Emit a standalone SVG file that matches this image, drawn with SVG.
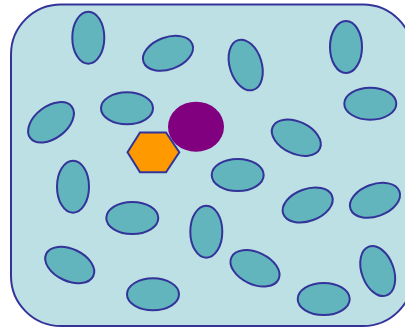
<svg xmlns="http://www.w3.org/2000/svg" width="405" height="327" viewBox="0 0 405 327">
<style>
.cell{fill:#bce0e4;stroke:#333399;stroke-width:2}
.o{fill:#62b5bd;stroke:#333399;stroke-width:2}
</style>
<defs>
<ellipse id="h" cx="0" cy="0" rx="26" ry="16"/>
</defs>
<g id="cell"><rect class="cell" x="11" y="4.5" width="402" height="321.5" rx="50" ry="50"/></g>
<g id="organelles">
<ellipse class="o" cx="88.3" cy="37.7" rx="16" ry="26"/>
<ellipse class="o" cx="0" cy="0" rx="26" ry="16" transform="translate(168,53.3) rotate(-20)"/>
<ellipse class="o" cx="0" cy="0" rx="16" ry="26" transform="translate(245.7,65) rotate(-17)"/>
<ellipse class="o" cx="346" cy="47" rx="16" ry="26"/>
<ellipse class="o" cx="370.3" cy="103.7" rx="26" ry="16"/>
<ellipse class="o" cx="0" cy="0" rx="26" ry="16" transform="translate(51,122.3) rotate(-37)"/>
<ellipse class="o" cx="127" cy="108.3" rx="26" ry="16"/>
<ellipse class="o" cx="0" cy="0" rx="26" ry="16" transform="translate(296.3,137.7) rotate(25)"/>
<ellipse class="o" cx="237.7" cy="175" rx="26" ry="16"/>
<ellipse class="o" cx="73" cy="186.7" rx="16" ry="26"/>
<ellipse class="o" cx="132.3" cy="218" rx="26" ry="16"/>
<ellipse class="o" cx="206.3" cy="231.7" rx="16" ry="26"/>
<ellipse class="o" cx="0" cy="0" rx="26" ry="16" transform="translate(307.7,205) rotate(-20)"/>
<ellipse class="o" cx="0" cy="0" rx="26" ry="16" transform="translate(375,200.3) rotate(-20)"/>
<ellipse class="o" cx="0" cy="0" rx="26" ry="16" transform="translate(69.7,265) rotate(25)"/>
<ellipse class="o" cx="0" cy="0" rx="26" ry="16" transform="translate(255,268.3) rotate(25)"/>
<ellipse class="o" cx="0" cy="0" rx="16" ry="26" transform="translate(377.7,271) rotate(-20)"/>
<ellipse class="o" cx="153" cy="294.3" rx="26" ry="16"/>
<ellipse class="o" cx="323.7" cy="299" rx="26" ry="16"/>
</g>
<g id="nucleus"><ellipse cx="196" cy="126.7" rx="28" ry="25" fill="#800080"/></g>
<g id="hexagon"><polygon points="127.5,152.3 140,132.5 166,132.5 179.3,152.3 166,172.2 140,172.2" fill="#ff9900" stroke="#333399" stroke-width="2"/></g>
</svg>
